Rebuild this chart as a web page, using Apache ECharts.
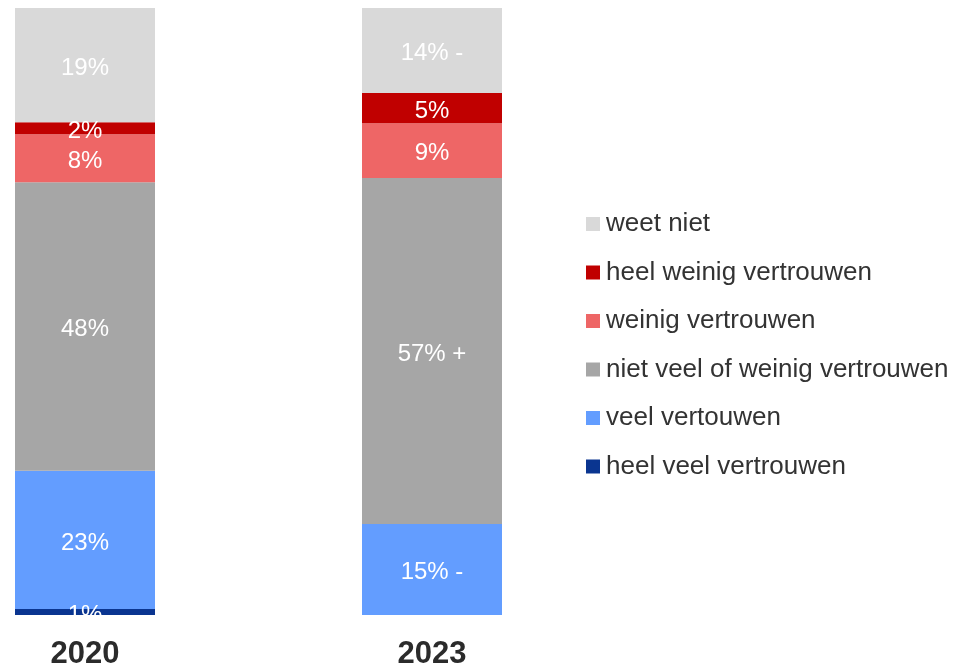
<!DOCTYPE html>
<html>
<head>
<meta charset="utf-8">
<style>
  html, body { margin: 0; padding: 0; background: #fff; }
  #chart { width: 961px; height: 666px; }
</style>
<script src="https://cdn.jsdelivr.net/npm/echarts@6/dist/echarts.min.js"></script>
</head>
<body>
<div id="chart"></div>
<script>
// years on the x axis
var years = ['2020', '2023'];

// raw percentages per answer, [2020, 2023]
var heelVeel = [1, 0];
var veel = [23, 15];
var nietVeelOfWeinig = [48, 57];
var weinig = [8, 9];
var heelWeinig = [2, 5];
var weetNiet = [19, 14];

// significance marks shown after the 2023 values
var markHeelVeel = ['', ''];
var markVeel = ['', ' -'];
var markNietVeel = ['', ' +'];
var markWeinig = ['', ''];
var markHeelWeinig = ['', ''];
var markWeetNiet = ['', ' -'];

var seriesDefs = [
  { name: 'heel veel vertrouwen', values: heelVeel, marks: markHeelVeel, color: '#0a3590' },
  { name: 'veel vertouwen', values: veel, marks: markVeel, color: '#639dff' },
  { name: 'niet veel of weinig vertrouwen', values: nietVeelOfWeinig, marks: markNietVeel, color: '#a6a6a6' },
  { name: 'weinig vertrouwen', values: weinig, marks: markWeinig, color: '#ee6666' },
  { name: 'heel weinig vertrouwen', values: heelWeinig, marks: markHeelWeinig, color: '#c00000' },
  { name: 'weet niet', values: weetNiet, marks: markWeetNiet, color: '#d9d9d9' }
];

// every bar is scaled to 100% of its own total
var totals = years.map(function (y, i) {
  return seriesDefs.reduce(function (s, d) { return s + d.values[i]; }, 0);
});

var chart = echarts.init(document.getElementById('chart'));

var font = 'Liberation Sans, Arial, sans-serif';

var option = {
  animation: false,
  grid: { left: 85, right: 529, top: 8, bottom: 51, outerBoundsMode: 'none' },
  legend: {
    orient: 'vertical',
    left: 586,
    top: 211,
    padding: 0,
    icon: 'rect',
    itemWidth: 14,
    itemHeight: 14,
    itemGap: 22.5,
    data: ['weet niet', 'heel weinig vertrouwen', 'weinig vertrouwen',
           'niet veel of weinig vertrouwen', 'veel vertouwen', 'heel veel vertrouwen'],
    textStyle: { fontFamily: font, fontSize: 26, lineHeight: 26, color: '#333', padding: [0, 0, 0, 1] }
  },
  xAxis: {
    type: 'category',
    data: years,
    boundaryGap: false,
    axisLine: { show: false },
    axisTick: { show: false },
    axisLabel: { fontFamily: font, fontSize: 31, fontWeight: 'bold', color: '#2b2b2b', margin: 24 }
  },
  yAxis: {
    type: 'value',
    min: 0,
    max: 100,
    show: false,
    splitLine: { show: false }
  },
  series: seriesDefs.map(function (d) {
    return {
      name: d.name,
      type: 'bar',
      stack: 'total',
      barWidth: 140,
      clip: false,
      itemStyle: { color: d.color },
      label: {
        show: true,
        position: 'inside',
        offset: [0, 3],
        color: '#fff',
        fontFamily: font,
        fontSize: 24,
        formatter: function (p) {
          var raw = d.values[p.dataIndex];
          return raw ? raw + '%' + d.marks[p.dataIndex] : '';
        }
      },
      data: d.values.map(function (v, i) { return v / totals[i] * 100; })
    };
  })
};

chart.setOption(option);
</script>
</body>
</html>
